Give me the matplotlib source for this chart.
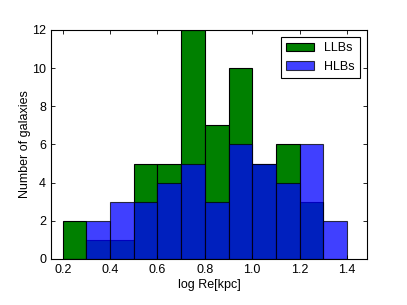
import matplotlib
matplotlib.use("Agg")
import matplotlib.pyplot as plt
import numpy as np

plt.rcParams['font.family'] = ['Liberation Sans', 'DejaVu Sans']

bin_edges = [0.2, 0.3, 0.4, 0.5, 0.6, 0.7, 0.8, 0.9, 1.0, 1.1, 1.2, 1.3, 1.4]
llb_counts = [2, 1, 1, 5, 5, 12, 7, 10, 5, 6, 3, 0]
hlb_counts = [0, 2, 3, 3, 4, 5, 3, 6, 5, 4, 6, 2]

fig = plt.figure(figsize=(4.07, 3.05), dpi=100)
ax = fig.add_axes([0.125, 0.151, 0.777, 0.751])

centers = np.array(bin_edges[:-1]) + 0.05
ax.hist(centers, bins=bin_edges, weights=llb_counts, color='green',
        edgecolor='black', linewidth=0.8, label='LLBs')
ax.hist(centers, bins=bin_edges, weights=hlb_counts, color='blue', alpha=0.75,
        edgecolor='black', linewidth=0.8, label='HLBs')

ax.set_xlim(0.15, 1.485)
ax.set_ylim(0, 12)
ax.set_xticks([0.2, 0.4, 0.6, 0.8, 1.0, 1.2, 1.4])
ax.set_yticks([0, 2, 4, 6, 8, 10, 12])
ax.tick_params(direction='in', top=True, right=True, length=3, width=0.6, labelsize=9)
for s in ax.spines.values():
    s.set_linewidth(0.8)
ax.set_xlabel('log Re[kpc]', fontsize=9, labelpad=2)
ax.set_ylabel('Number of galaxies', fontsize=9, labelpad=1)
leg = ax.legend(loc='upper right', fontsize=9, fancybox=False, framealpha=1,
                edgecolor='black', handlelength=2.2, borderaxespad=0.6)
leg.get_frame().set_linewidth(0.8)

fig.savefig('out.png', dpi=100)
